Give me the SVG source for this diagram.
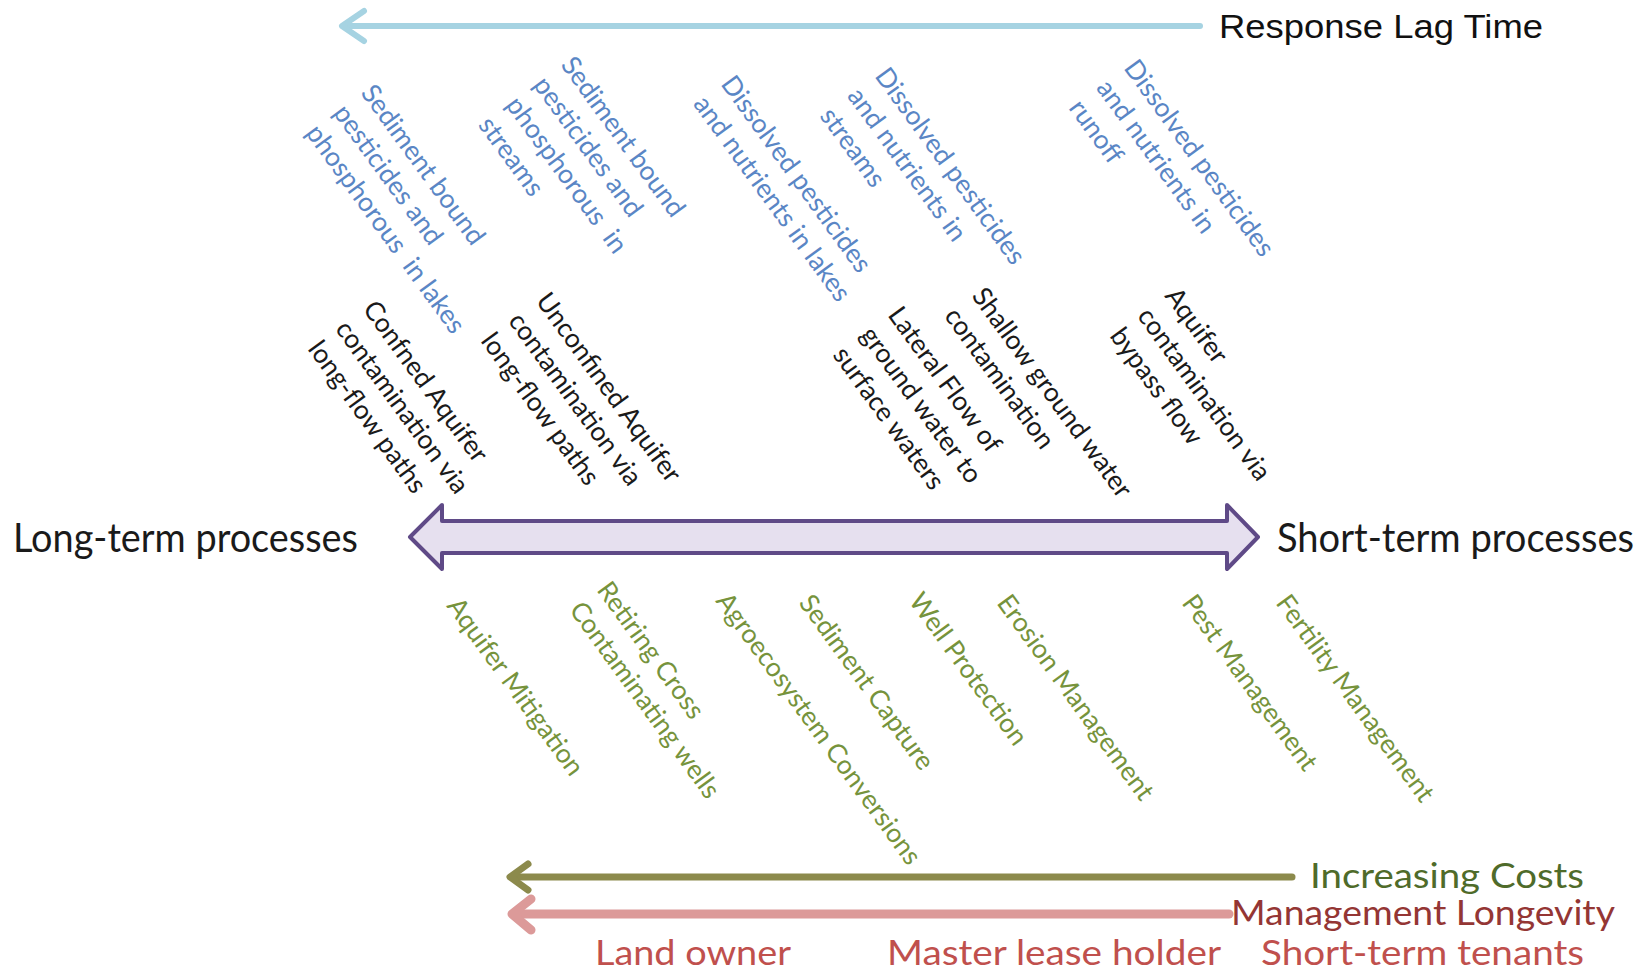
<svg xmlns="http://www.w3.org/2000/svg" width="1650" height="972" viewBox="0 0 1650 972">
<style>
.rt{font-family:Lato,"Noto Sans",sans-serif;font-size:26.5px}
.blue{fill:#5a86c5}
.blk{fill:#1a1a1a}
.grn{fill:#76933c}
.big{font-family:Lato,"Noto Sans",sans-serif;font-size:40px;fill:#1a1a1a}
.bot{font-family:Lato,"Noto Sans",sans-serif;font-size:34px}
</style>
<rect width="1650" height="972" fill="#ffffff"/>
<g id="connectors" fill="none" stroke-linecap="round" stroke-linejoin="round">
  <g id="lag-arrow" stroke="#a6d3e2" stroke-width="6">
    <line x1="344" y1="26" x2="1200" y2="26"/>
    <polyline points="364,11 342,26 364,41"/>
  </g>
  <polygon id="process-arrow" points="410,537 442,505 442,521 1227,521 1227,505 1258,537 1227,569 1227,553 442,553 442,569" fill="#e6e0ef" stroke="#5f4a87" stroke-width="4"/>
  <g id="cost-arrow" stroke="#8c8a4c" stroke-width="7">
    <line x1="512" y1="877" x2="1292" y2="877"/>
    <polyline points="528,864 510,877 528,890"/>
  </g>
  <g id="longevity-arrow" stroke="#dc9a99" stroke-width="9">
    <line x1="514" y1="914" x2="1229" y2="914"/>
    <polyline points="531,899 512,914 531,930"/>
  </g>
</g>
<g id="title-lag"><text x="1219" y="38" font-family="Liberation Sans, Arial, sans-serif" font-size="34" fill="#111" textLength="324" lengthAdjust="spacingAndGlyphs">Response Lag Time</text></g>
<g id="label-long"><text class="big" x="13" y="552" textLength="345" lengthAdjust="spacingAndGlyphs">Long-term processes</text></g>
<g id="label-short"><text class="big" x="1277" y="552" textLength="357" lengthAdjust="spacingAndGlyphs">Short-term processes</text></g>

<g id="b1" class="rt blue" transform="translate(360,93) rotate(54)"><text x="0" y="0">Sediment bound</text><text x="0" y="34">pesticides and</text><text x="0" y="68" xml:space="preserve">phosphorous  in lakes</text></g>
<g id="b2" class="rt blue" transform="translate(560,65) rotate(54)"><text x="0" y="0">Sediment bound</text><text x="0" y="34">pesticides and</text><text x="0" y="68" xml:space="preserve">phosphorous  in</text><text x="0" y="102">streams</text></g>
<g id="b3" class="rt blue" transform="translate(720,84) rotate(54)"><text x="0" y="0">Dissolved pesticides</text><text x="0" y="34">and nutrients in lakes</text></g>
<g id="b4" class="rt blue" transform="translate(874,76) rotate(54)"><text x="0" y="0">Dissolved pesticides</text><text x="0" y="34">and nutrients in</text><text x="0" y="68">streams</text></g>
<g id="b5" class="rt blue" transform="translate(1123,68) rotate(54)"><text x="0" y="0">Dissolved pesticides</text><text x="0" y="34">and nutrients in</text><text x="0" y="68">runoff</text></g>

<g id="k1" class="rt blk" transform="translate(362,309) rotate(54)"><text x="0" y="0">Confned Aquifer</text><text x="0" y="34">contamination via</text><text x="0" y="68">long-flow paths</text></g>
<g id="k2" class="rt blk" transform="translate(535,301) rotate(54)"><text x="0" y="0">Unconfined Aquifer</text><text x="0" y="34">contamination via</text><text x="0" y="68">long-flow paths</text></g>
<g id="k3" class="rt blk" transform="translate(887,315) rotate(54)"><text x="0" y="0">Lateral Flow of</text><text x="0" y="34">ground water to</text><text x="0" y="68">surface waters</text></g>
<g id="k4" class="rt blk" transform="translate(971,296) rotate(54)"><text x="0" y="0">Shallow ground water</text><text x="0" y="34">contamination</text></g>
<g id="k5" class="rt blk" transform="translate(1164,296) rotate(54)"><text x="0" y="0">Aquifer</text><text x="0" y="34">contamination via</text><text x="0" y="68">bypass flow</text></g>

<g id="g1" class="rt grn" transform="translate(446,606) rotate(54)"><text x="0" y="0">Aquifer Mitigation</text></g>
<g id="g2" class="rt grn" transform="translate(596,590) rotate(54)"><text x="0" y="0">Retiring Cross</text><text x="0" y="34">Contaminating wells</text></g>
<g id="g3" class="rt grn" transform="translate(715,601) rotate(54)"><text x="0" y="0">Agroecosystem Conversions</text></g>
<g id="g4" class="rt grn" transform="translate(798,603) rotate(54)"><text x="0" y="0">Sediment Capture</text></g>
<g id="g5" class="rt grn" transform="translate(908,601) rotate(54)"><text x="0" y="0">Well Protection</text></g>
<g id="g6" class="rt grn" transform="translate(996,603) rotate(54)"><text x="0" y="0">Erosion Management</text></g>
<g id="g7" class="rt grn" transform="translate(1181,603) rotate(54)"><text x="0" y="0">Pest Management</text></g>
<g id="g8" class="rt grn" transform="translate(1275,603) rotate(54)"><text x="0" y="0">Fertility Management</text></g>

<g id="label-costs"><text class="bot" x="1310" y="888" fill="#4f6b2a" textLength="274" lengthAdjust="spacingAndGlyphs">Increasing Costs</text></g>
<g id="label-longevity"><text class="bot" x="1231" y="925" fill="#943634" textLength="384" lengthAdjust="spacingAndGlyphs">Management Longevity</text></g>
<g id="label-land"><text class="bot" x="595" y="965" fill="#c0504d" textLength="196" lengthAdjust="spacingAndGlyphs">Land owner</text></g>
<g id="label-master"><text class="bot" x="887" y="965" fill="#c0504d" textLength="334" lengthAdjust="spacingAndGlyphs">Master lease holder</text></g>
<g id="label-tenants"><text class="bot" x="1261" y="965" fill="#c0504d" textLength="323" lengthAdjust="spacingAndGlyphs">Short-term tenants</text></g>
</svg>
